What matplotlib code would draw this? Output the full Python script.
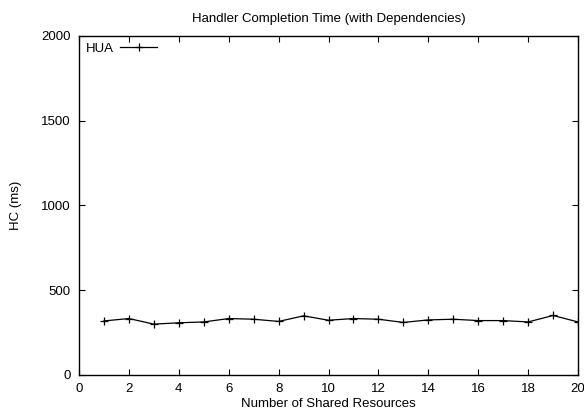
import numpy as np
import matplotlib
matplotlib.use('Agg')
import matplotlib.pyplot as plt

plt.rcParams['font.family'] = ['Liberation Sans', 'DejaVu Sans']

# dane
resources = [1, 2, 3, 4, 5, 6, 7, 8, 9, 10, 11, 12, 13, 14, 15, 16, 17, 18, 19, 20]
hc_hua = [319, 333, 300, 308, 313, 333, 329, 316, 349, 323,
          333, 329, 310, 325, 329, 321, 321, 313, 351, 313]

fig = plt.figure(figsize=(5.84, 4.15), dpi=100)
ax = fig.add_axes([0.1353, 0.0964, 0.8545, 0.8169])

ax.plot(resources, hc_hua, color='black', linewidth=0.9, marker='+',
        markersize=5.5, markeredgewidth=0.9, label='HUA')

ax.set_xlim(0, 20)
ax.set_ylim(0, 2000)
ax.set_xticks(np.arange(0, 21, 2))
ax.set_yticks(np.arange(0, 2001, 500))
ax.tick_params(direction='in', length=4, width=0.8, top=True, right=True,
               labelsize=9.5, pad=6)
for s in ax.spines.values():
    s.set_linewidth(1.0)

ax.set_xlabel('Number of Shared Resources', fontsize=9.5, labelpad=2)
ax.set_ylabel('HC (ms)', fontsize=9.5, labelpad=14)
ax.set_title('Handler Completion Time (with Dependencies)', fontsize=9.5, pad=10)

leg = ax.legend(loc='upper left', frameon=False, markerfirst=False,
                fontsize=9.5, handlelength=2.8, borderaxespad=0.1,
                handletextpad=0.5)

plt.savefig('out.png', dpi=100)
